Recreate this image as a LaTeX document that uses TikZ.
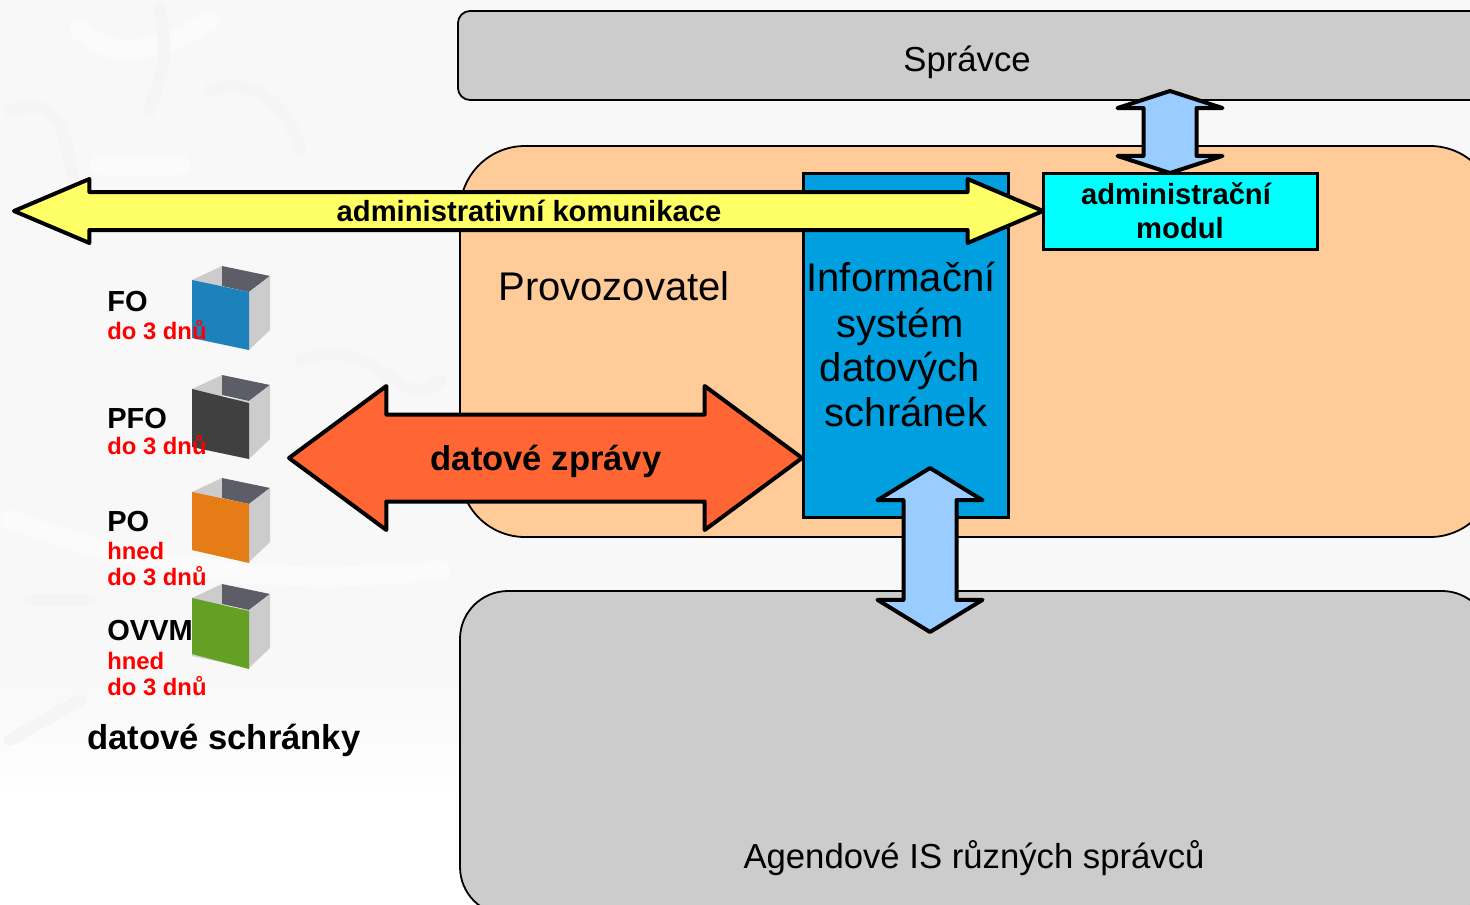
\documentclass[tikz,border=0pt]{standalone}
\usepackage{fontspec}
\setmainfont{Liberation Sans}
\usetikzlibrary{shapes.arrows}

\definecolor{shadeg}{HTML}{CCCCCC}
\definecolor{provoz}{HTML}{FFCC99}
\definecolor{infosys}{HTML}{009FE0}
\definecolor{modulc}{HTML}{00FFFF}
\definecolor{lightblue}{HTML}{99CCFF}
\definecolor{yellowar}{HTML}{FFFF66}
\definecolor{redar}{HTML}{FF6633}
\definecolor{boxdark}{HTML}{5D5D68}
\definecolor{paper}{HTML}{F8F8F8}
\definecolor{blotch}{HTML}{F5F5F5}
\definecolor{blotchw}{HTML}{FBFBFB}

\tikzset{
    blockarrow/.style={
        draw=black,
        line width=2pt,
        line join=round,
        shape=double arrow,
        inner sep=0pt,
        outer sep=0pt},
    softline/.style={blotch, line width=6pt, line cap=round},
    softlight/.style={blotchw, line width=10pt, line cap=round},
    plainbig/.style={font=\fontsize{17.35}{20}\selectfont},
    plainhuge/.style={font=\fontsize{20}{22.5}\selectfont},
    boldbig/.style={font=\bfseries\fontsize{17.3}{20}\selectfont},
    boldmid/.style={font=\bfseries\fontsize{14.6}{17}\selectfont},
    kind/.style={font=\bfseries\fontsize{14.5}{17}\selectfont, anchor=base west, inner sep=0pt},
    term/.style={font=\bfseries\fontsize{11.9}{14}\selectfont, text=red, anchor=base west, inner sep=0pt},
    openbox/.pic={
        \fill[shadeg] (0,0) -- (30,-14) -- (30,8) -- (57,12) -- (57,70) -- (0,58) -- cycle;
        \fill[boxdark] (30,-14) -- (78,-4) -- (57,12) -- (30,6) -- cycle;
        \fill[shadeg] (57,12) -- (78,-4) -- (78,50) -- (57,70) -- cycle;
    }
}

\begin{document}
\begin{tikzpicture}[x=.5pt, y=-.5pt]

    \useasboundingbox (0,0) rectangle (1470,904);
    \clip (0,0) rectangle (1470,904);

    % faint background
    \fill[white] (0,0) rectangle (1470,904);
    \fill[paper] (0,0) rectangle (1470,680);
    \shade[top color=paper, bottom color=white] (0,680) rectangle (1470,800);
    \draw[softlight] (80,30) .. controls (120,70) and (180,40) .. (210,20);
    \draw[softlight] (100,165) -- (180,165);
    \draw[softlight] (10,520) .. controls (120,560) and (250,590) .. (440,570);
    \draw[softline] (160,10) .. controls (170,70) and (160,70) .. (150,110);
    \draw[softline] (10,110) .. controls (80,90) and (60,170) .. (80,190);
    \draw[softline] (30,600) -- (90,600);
    \draw[softline] (10,740) -- (80,700);
    \draw[softline] (210,90) .. controls (260,75) and (290,110) .. (300,150);
    \draw[softline] (300,360) .. controls (380,330) and (400,420) .. (440,380);

    \node[draw, fill=shadeg, line width=.9pt, rounded corners=6pt, minimum width=580pt, minimum height=44.5pt, anchor=north west, outer sep=0pt] (admin) at (458,11) {};
    \node[draw, fill=provoz, line width=.9pt, rounded corners=32.5pt, minimum width=517.5pt, minimum height=195.5pt, anchor=north west, outer sep=0pt] (operator) at (460,146) {};
    \node[draw, fill=shadeg, line width=.9pt, rounded corners=24pt, minimum width=515pt, minimum height=162pt, anchor=north west, outer sep=0pt] (agendas) at (460,591) {};

    \node[draw, fill=infosys, line width=1.5pt, minimum width=102.5pt, minimum height=172pt, anchor=north west, outer sep=0pt] (isds) at (803,173) {};
    \node[draw, fill=modulc, line width=1.5pt, minimum width=137pt, minimum height=38pt, anchor=north west, outer sep=0pt] (modul) at (1043,173) {};

    \node[plainbig, anchor=base, inner sep=0pt] (admintxt) at (967,72) {Správce};
    \node[plainhuge, anchor=base west, inner sep=0pt] (operatortxt) at (498,300) {Provozovatel};
    \node[plainbig, anchor=base, inner sep=0pt] (agendastxt) at (974,868) {Agendové IS různých správců};

    \node[plainhuge, anchor=base, inner sep=0pt] (is1) at (901,291) {Informační};
    \node[plainhuge, anchor=base, inner sep=0pt] (is2) at (900,337) {systém};
    \node[plainhuge, anchor=base, inner sep=0pt] (is3) at (900,381) {datových};
    \node[plainhuge, anchor=base, inner sep=0pt] (is4) at (906,426) {schránek};

    \node[boldmid, anchor=base, inner sep=0pt] (modul1) at (1176,204) {administrační};
    \node[boldmid, anchor=base, inner sep=0pt] (modul2) at (1180,238) {modul};

    % block arrows
    \node[blockarrow, fill=lightblue, inner xsep=12.25pt, double arrow head extend=13pt, double arrow tip angle=144, minimum height=41pt, shape border rotate=90] (adminarrow) at (1170,132) {};
    \node[blockarrow, fill=lightblue, inner xsep=12.25pt, double arrow head extend=13pt, double arrow tip angle=117, minimum height=82pt, shape border rotate=90] (agendaarrow) at (930,550) {};
    \node[blockarrow, fill=yellowar, inner ysep=8.5pt, double arrow head extend=6.5pt, double arrow tip angle=46, minimum height=514.5pt] (adminkom) at (528.5,211) {};
    \node[blockarrow, fill=redar, inner ysep=20.75pt, double arrow head extend=14.25pt, double arrow tip angle=73, minimum height=256.5pt] (zpravy) at (545.5,458) {};

    \node[boldmid, anchor=base, inner sep=0pt] (adminkomtxt) at (529,221) {administrativní komunikace};
    \node[boldbig, anchor=base, inner sep=0pt] (zpravytxt) at (546,470) {datové zprávy};

    % boxes
    \pic at (192,280) {openbox};
    \fill[fill={rgb,255:red,29;green,130;blue,187}] (192,280) -- (249,292) -- (249,350) -- (192,338) -- cycle;
    \pic at (192,389) {openbox};
    \fill[fill={rgb,255:red,64;green,64;blue,64}] (192,389) -- (249,403) -- (249,459) -- (192,447) -- cycle;
    \pic at (192,492) {openbox};
    \fill[fill={rgb,255:red,230;green,124;blue,22}] (192,492) -- (249,504) -- (249,563) -- (192,550) -- cycle;
    \pic at (192,598) {openbox};
    \fill[fill={rgb,255:red,100;green,160;blue,35}] (192,598) -- (249,611) -- (249,669) -- (192,654) -- cycle;

    \node[kind] (fo) at (107,311) {FO};
    \node[term] (fot) at (107,339) {do 3 dnů};
    \node[kind] (pfo) at (107,428) {PFO};
    \node[term] (pfot) at (107,454) {do 3 dnů};
    \node[kind] (po) at (107,531) {PO};
    \node[term] (poa) at (107,559) {hned};
    \node[term] (pot) at (107,585) {do 3 dnů};
    \node[kind] (ovm) at (107,640) {OVVM};
    \node[term] (ovma) at (107,669) {hned};
    \node[term] (ovmt) at (107,695) {do 3 dnů};

    \node[boldbig, anchor=base west, inner sep=0pt] (boxestxt) at (87,749) {datové schránky};
\end{tikzpicture}
\end{document}
